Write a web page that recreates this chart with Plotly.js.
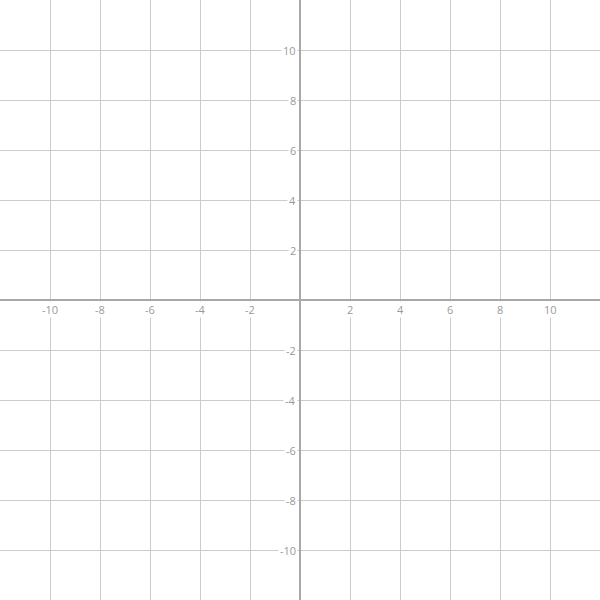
<!DOCTYPE html>
<html>
<head>
<meta charset="utf-8">
<script src="https://cdn.plot.ly/plotly-3.0.1.min.js"></script>
<style>html,body{margin:0;padding:0;background:#fff}#chart{width:600px;height:600px}</style>
</head>
<body>
<div id="chart"></div>
<script>
const xTicks = [-10, -8, -6, -4, -2, 2, 4, 6, 8, 10];
const yTicks = [-10, -8, -6, -4, -2, 2, 4, 6, 8, 10];
const axisRange = [-12, 12];

const labelFont = {family: 'Open Sans, sans-serif', size: 11, color: '#9a9a9a'};
const annotations = [];
xTicks.forEach(v => annotations.push({
  x: v, y: 0, xref: 'x', yref: 'y', text: String(v), showarrow: false,
  xanchor: 'center', yanchor: 'top', yshift: -1, bgcolor: '#ffffff',
  font: labelFont, borderpad: 0
}));
yTicks.forEach(v => annotations.push({
  x: 0, y: v, xref: 'x', yref: 'y', text: String(v), showarrow: false,
  xanchor: 'right', yanchor: 'middle', xshift: -2, bgcolor: '#ffffff',
  font: labelFont, borderpad: 1
}));

const axisCommon = {
  range: axisRange, dtick: 2, tick0: 0, showgrid: true, gridcolor: '#cccccc', gridwidth: 1,
  zeroline: true, zerolinecolor: '#a8a8a8', zerolinewidth: 2,
  showticklabels: false, ticks: '', showline: false, fixedrange: true
};

Plotly.newPlot('chart', [{x: [], y: [], type: 'scatter', mode: 'markers', hoverinfo: 'skip', showlegend: false}], {
  width: 600, height: 600,
  margin: {l: 0, r: 0, t: 0, b: 0, pad: 0},
  paper_bgcolor: '#ffffff', plot_bgcolor: '#ffffff',
  xaxis: Object.assign({}, axisCommon),
  yaxis: Object.assign({}, axisCommon),
  annotations: annotations,
  showlegend: false
}, {displayModeBar: false, staticPlot: true});
</script>
</body>
</html>
